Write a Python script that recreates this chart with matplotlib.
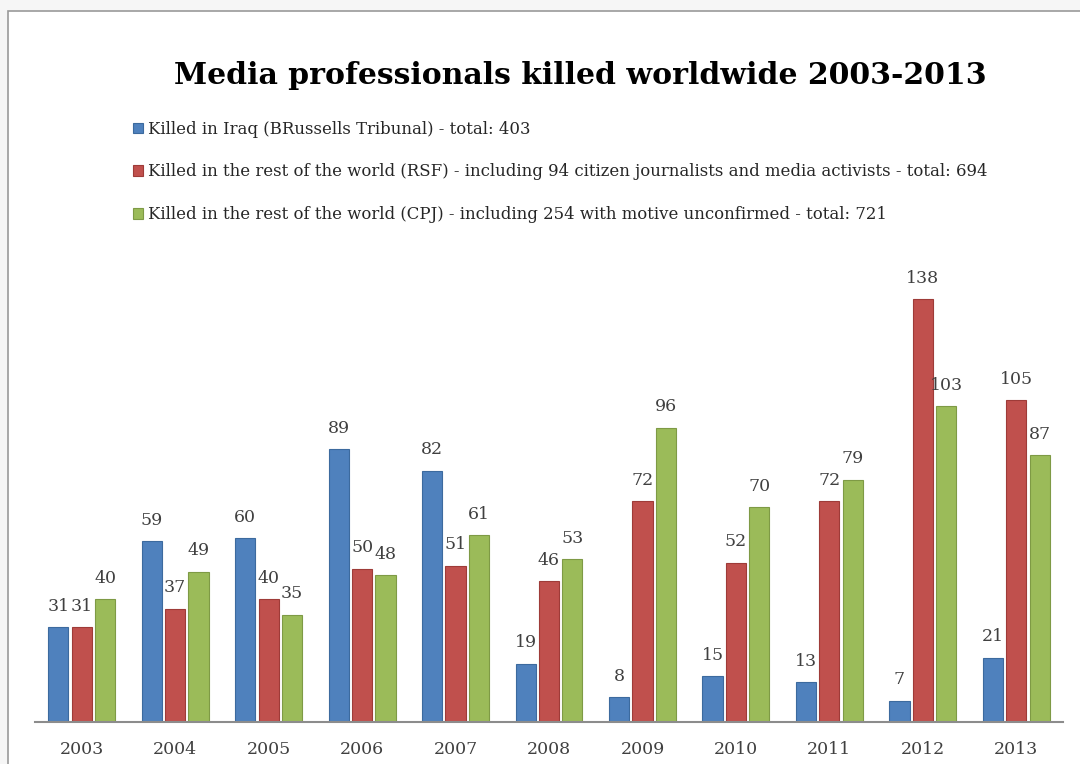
import matplotlib.pyplot as plt
from matplotlib.patches import Rectangle
import numpy as np

years = ['2003', '2004', '2005', '2006', '2007', '2008', '2009', '2010', '2011', '2012', '2013']
iraq = [31, 59, 60, 89, 82, 19, 8, 15, 13, 7, 21]
rsf = [31, 37, 40, 50, 51, 46, 72, 52, 72, 138, 105]
cpj = [40, 49, 35, 48, 61, 53, 96, 70, 79, 103, 87]

series_labels = [
    'Killed in Iraq (BRussells Tribunal) - total: 403',
    'Killed in the rest of the world (RSF) - including 94 citizen journalists and media activists - total: 694',
    'Killed in the rest of the world (CPJ) - including 254 with motive unconfirmed - total: 721',
]
colors = ['#4F81BD', '#C0504D', '#9BBB59']
edges = ['#3C6A9E', '#9E3B38', '#7E9A45']

plt.rcParams['font.family'] = ['DejaVu Serif']

fig = plt.figure(figsize=(10.8, 7.64), dpi=100, facecolor='#f6f6f6')
# white chart area with grey frame, as in the screenshot
fig.patches.append(Rectangle((8 / 1080, -0.01), 1.0, 1 - 11 / 764 + 0.01,
                             transform=fig.transFigure, facecolor='white',
                             edgecolor='#9a9a9a', linewidth=1.2, zorder=-10))

ax = fig.add_axes([35 / 1080, 42 / 764, 1028 / 1080, 460 / 764])
ax.set_facecolor('none')
ax.set_zorder(2)

x = np.arange(len(years))
width = 0.215
step = 0.25
bars = []
for i, (vals, col, ec, lab) in enumerate(zip([iraq, rsf, cpj], colors, edges, series_labels)):
    b = ax.bar(x + (i - 1) * step, vals, width, color=col, edgecolor=ec, linewidth=0.8, label=lab)
    bars.append(b)
    for xi, v in zip(x + (i - 1) * step, vals):
        ax.text(xi, v + 4, str(v), ha='center', va='bottom', fontsize=12.5, color='#404040')

ax.set_xlim(-0.5, 10.5)
ax.set_ylim(0, 150)
ax.set_yticks([])
ax.set_xticks(x)
ax.set_xticklabels(years, fontsize=12.5, color='#404040')
ax.tick_params(axis='x', length=0, pad=14)
for s in ['top', 'right', 'left']:
    ax.spines[s].set_visible(False)
ax.spines['bottom'].set_color('#8c8c8c')
ax.spines['bottom'].set_linewidth(1.5)

fig.text(580 / 1080, 1 - 75 / 764, 'Media professionals killed worldwide 2003-2013',
         ha='center', va='center', fontsize=21.5, fontweight='bold', color='black')

fig.legend(handles=bars, labels=series_labels, loc='upper left',
           bbox_to_anchor=(118 / 1080, 1 - 106 / 764), frameon=False,
           fontsize=11.9, handlelength=0.6, handleheight=0.6,
           handletextpad=0.3, labelspacing=1.55, labelcolor='#262626')

fig.savefig('out.png', dpi=100, facecolor=fig.get_facecolor())
